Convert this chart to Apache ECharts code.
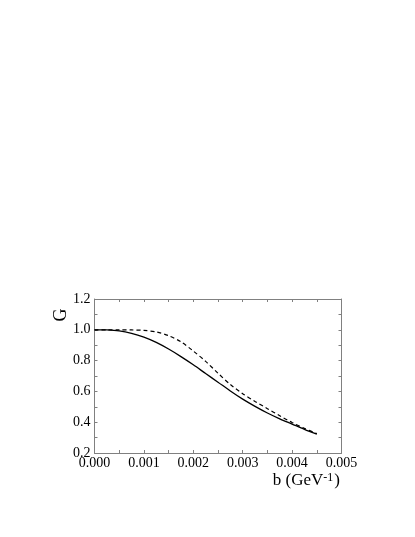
<!DOCTYPE html>
<html>
<head>
<meta charset="utf-8">
<script src="https://cdn.jsdelivr.net/npm/echarts@6/dist/echarts.min.js"></script>
<style>
  html, body { margin: 0; padding: 0; background: #fff; }
  #main { width: 415px; height: 537px; }
</style>
</head>
<body>
<div id="main"></div>
<script>
// b values (GeV^-1)
var bValues = [0, 0.00025, 0.0005, 0.00075, 0.001, 0.00125, 0.0015, 0.00175, 0.002,
  0.00225, 0.0025, 0.00275, 0.003, 0.00325, 0.0035, 0.00375, 0.004, 0.00425, 0.0045];
// solid curve
var gSolid = [1.0, 0.999, 0.993, 0.977, 0.952, 0.918, 0.875, 0.826, 0.773,
  0.716, 0.660, 0.603, 0.550, 0.503, 0.460, 0.422, 0.388, 0.354, 0.322];
// dashed curve
var gDashed = [1.0, 1.0, 1.0, 0.999, 0.996, 0.986, 0.962, 0.922, 0.862,
  0.795, 0.718, 0.645, 0.585, 0.535, 0.488, 0.442, 0.398, 0.360, 0.326];

function pairs(xs, ys) {
  var out = [];
  for (var i = 0; i < xs.length; i++) out.push([xs[i], ys[i]]);
  return out;
}

var font = '"Liberation Serif", "DejaVu Serif", serif';
var axisGrey = '#808080';

// ticks every 0.0005, labels only every 0.001
function xAx(pos, showLabel) {
  return {
    type: 'value', position: pos, min: 0, max: 0.005, interval: 0.0005,
    axisLine: { show: true, onZero: false, lineStyle: { color: axisGrey, width: 1 } },
    axisTick: { show: true, inside: true, length: 3, lineStyle: { color: axisGrey } },
    splitLine: { show: false },
    axisLabel: {
      show: showLabel, color: '#000', fontFamily: font, fontSize: 14, margin: 3,
      formatter: function (v) {
        return Math.round(v * 10000) % 10 === 0 ? v.toFixed(3) : '';
      }
    }
  };
}
// ticks every 0.1, labels only every 0.2
function yAx(pos, showLabel) {
  return {
    type: 'value', position: pos, min: 0.2, max: 1.2, interval: 0.1,
    axisLine: { show: true, onZero: false, lineStyle: { color: axisGrey, width: 1 } },
    axisTick: { show: true, inside: true, length: 3, lineStyle: { color: axisGrey } },
    splitLine: { show: false },
    axisLabel: {
      show: showLabel, color: '#000', fontFamily: font, fontSize: 14, margin: 4,
      formatter: function (v) {
        return Math.round(v * 10) % 2 === 0 ? v.toFixed(1) : '';
      }
    }
  };
}

var chart = echarts.init(document.getElementById('main'));
chart.setOption({
  backgroundColor: '#fff',
  animation: false,
  grid: { left: 94.5, right: 73.5, top: 299, bottom: 84, containLabel: false, outerBoundsMode: 'none' },
  xAxis: [xAx('bottom', true), xAx('top', false)],
  yAxis: [yAx('left', true), yAx('right', false)],
  graphic: [{
    type: 'text', x: 61, y: 315, rotation: Math.PI / 2,
    style: { text: 'G', fontFamily: font, fontSize: 18, fill: '#000', align: 'center', verticalAlign: 'middle' }
  }, {
    type: 'text', x: 340, y: 481,
    style: {
      text: '{n|b (GeV}{s|-1}{n|)}', align: 'right', verticalAlign: 'middle',
      rich: {
        n: { fontFamily: font, fontSize: 17, fill: '#000' },
        s: { fontFamily: font, fontSize: 12, fill: '#000', verticalAlign: 'top', padding: [0, 1, 6, 0] }
      }
    }
  }],
  series: [{
    type: 'line', xAxisIndex: 0, yAxisIndex: 0, data: pairs(bValues, gSolid),
    showSymbol: false, smooth: 0.3,
    lineStyle: { color: '#000', width: 1.3 }
  }, {
    type: 'line', xAxisIndex: 0, yAxisIndex: 0, data: pairs(bValues, gDashed),
    showSymbol: false, smooth: 0.3,
    lineStyle: { color: '#000', width: 1.2, type: [4, 3] }
  }]
});
</script>
</body>
</html>
